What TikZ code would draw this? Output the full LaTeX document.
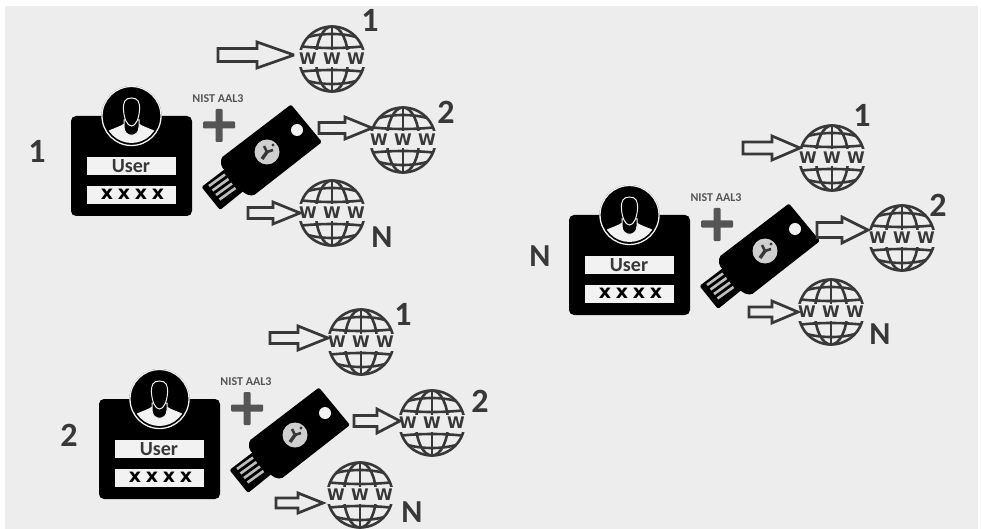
\documentclass[tikz,border=0pt]{standalone}
\usepackage{fontspec}
\setmainfont{Carlito}
\newfontfamily\xfont[LetterSpace=25]{DejaVu Sans}
\newfontfamily\wfont{DejaVu Sans}
\definecolor{bgc}{HTML}{EDEDED}
\definecolor{ink}{HTML}{383838}
\definecolor{plusc}{HTML}{555555}
\definecolor{barc}{HTML}{F2F2F2}
\definecolor{pinc}{HTML}{BDBDBD}
\definecolor{logoc}{HTML}{CFCFCF}
\tikzset{
  blockarrow/.style={draw=ink,line width=2.7,fill=bgc,line join=miter,miter limit=3},
  globeline/.style={draw=ink,line width=2.6},
  wwwtext/.style={inner sep=0,text=ink,font=\fontsize{16}{16}\selectfont\wfont\bfseries},
  numlabel/.style={inner sep=0,text=ink,font=\fontsize{34}{34}\selectfont\bfseries},
  nlabel/.style={inner sep=0,text=ink,font=\fontsize{32}{32}\selectfont\bfseries},
  aaltext/.style={inner sep=0,text=plusc,font=\fontsize{12}{12}\selectfont\bfseries},
  usertext/.style={inner sep=0,text=ink,font=\fontsize{20}{20}\selectfont\bfseries},
  passtext/.style={inner sep=0,text=black,font=\fontsize{19}{19}\selectfont\xfont\bfseries},
}
% prefix, x, y
\newcommand{\webglobe}[3]{%
  \begin{scope}[shift={(#2,#3)}]
    \draw[globeline] (0,0) circle[radius=32.5];
    \draw[globeline] (0,0) ellipse[x radius=16,y radius=32.5];
    \draw[globeline] (0,-32.5) -- (0,32.5);
    \draw[globeline] (-24,-22) .. controls (-10,-26) and (10,-26) .. (24,-22);
    \draw[globeline] (-24,22) .. controls (-10,26) and (10,26) .. (24,22);
    \draw[globeline] (-30,-12.5) .. controls (-10,-10.5) and (10,-10.5) .. (30,-12.5);
    \draw[globeline] (-30,12.5) .. controls (-10,10.5) and (10,10.5) .. (30,12.5);
    \fill[bgc] (-35,-8.5) rectangle (35,8.5);
    \node[wwwtext] (#1w1) at (-24,0) {W};
    \node[wwwtext] (#1w2) at (0,0) {W};
    \node[wwwtext] (#1w3) at (24,0) {W};
  \end{scope}}
% tail, tip, y, headx, shafthalf, headhalf
\newcommand{\webarrow}[6]{%
  \draw[blockarrow] (#1,#3-#5) -- (#4,#3-#5) -- (#4,#3-#6) -- (#2,#3) -- (#4,#3+#6) -- (#4,#3+#5) -- (#1,#3+#5) -- cycle;}
% prefix, dx, dy
\newcommand{\usergroup}[3]{%
  \begin{scope}[shift={(#2,#3)}]
    % card
    \fill[black,rounded corners=5] (71,116) rectangle (192,216);
    \fill[barc] (87,157) rectangle (176,175);
    \fill[barc] (87,186) rectangle (176,204);
    \node[usertext] (#1user) at (131,166.5) {User};
    \node[passtext] (#1pass) at (132.5,194) {xxxx};
    % avatar
    \fill[black] (131.5,116) circle[radius=30];
    \draw[barc,line width=1.3] (131.5,116) circle[radius=29.5];
    \begin{scope}
      \clip (131.5,116) circle[radius=27];
      \fill[barc] (104,133) .. controls (113,128) and (120,127) .. (125,123) -- (138,123)
         .. controls (143,127) and (150,128) .. (159,133) -- (159,150) -- (104,150) -- cycle;
    \end{scope}
    \draw[barc,line width=1,fill=black] (124,120) -- (124,127) .. controls (124,138) and (139,138) .. (139,127) -- (139,120) -- cycle;
    \draw[barc,line width=1,fill=black] (131.5,98) .. controls (125,98) and (123,102) .. (123.5,110)
       .. controls (124,118) and (127,126) .. (131.5,126)
       .. controls (136,126) and (139,118) .. (139.5,110) .. controls (140,102) and (138,98) .. (131.5,98) -- cycle;
    % plus
    \fill[plusc,rounded corners=1] (203,121.5) rectangle (235,128.5);
    \fill[plusc,rounded corners=1] (215.5,109) rectangle (222.5,142);
    \node[aaltext] (#1aal) at (218,99) {NIST AAL3};
    % security key
    \fill[black,rounded corners=2] (291,104.5) -- (322,142) -- (253,196) -- (245,194) -- (221,166) -- (221,158) -- cycle;
    \fill[black,rounded corners=2] (229,166) -- (201.5,187) -- (220,210) -- (246,189) -- cycle;
    \draw[pinc,line width=2.6] (209,186) -- (225,174.5);
    \draw[pinc,line width=2.6] (212.5,190.5) -- (228.5,179);
    \draw[pinc,line width=2.6] (216,195) -- (232,183.5);
    \draw[pinc,line width=2.6] (219.5,199.5) -- (235.5,188);
    \fill[barc] (297,130) circle[radius=6];
    \fill[logoc] (267,152) circle[radius=12.5];
    \draw[ink,line width=3.4] (262,159) -- (267,152);
    \draw[ink,line width=2.6] (267,152) -- (264,146);
    \draw[ink,line width=2.6] (267,152) -- (273,150);
    \fill[ink] (273,145) circle[radius=1.6];
  \end{scope}}
\begin{document}
\begin{tikzpicture}[x=1pt,y=-1pt]
\useasboundingbox (0,0) rectangle (981,529);
\fill[white] (0,0) rectangle (981,529);
\fill[bgc] (5,6) rectangle (978,529);
% group 1
\usergroup{a}{0}{0}
\node[numlabel] (anum) at (37,151) {1};
\webglobe{ag1}{332}{59}
\webglobe{ag2}{403}{140}
\webglobe{ag3}{332}{213}
\webarrow{218}{294}{55}{257}{6.5}{13}
\webarrow{319}{372}{128}{345}{5.5}{11}
\webarrow{248}{300}{213}{273}{5.5}{11}
\node[numlabel] (al1) at (370,20) {1};
\node[numlabel] (al2) at (446,112) {2};
\node[nlabel] (al3) at (382,237) {N};
% group 2
\usergroup{b}{28}{283}
\node[numlabel] (bnum) at (69,435) {2};
\webglobe{bg1}{361}{342}
\webglobe{bg2}{432}{423}
\webglobe{bg3}{360}{495}
\webarrow{270}{328}{338}{298}{5.5}{12}
\webarrow{354}{400}{421}{377}{5.5}{12}
\webarrow{276}{323}{503}{298}{5}{10}
\node[numlabel] (bl1) at (403,314) {1};
\node[numlabel] (bl2) at (480,401) {2};
\node[nlabel] (bl3) at (412,512.5) {N};
% group N
\usergroup{c}{498}{99}
\node[nlabel] (cnum) at (540,256) {N};
\webglobe{cg1}{832}{158}
\webglobe{cg2}{902}{238}
\webglobe{cg3}{831}{312}
\webarrow{743}{800}{148}{772}{6}{12}
\webarrow{817}{868}{230}{842}{7.5}{13}
\webarrow{749}{798}{312}{772}{5}{11}
\node[numlabel] (cl1) at (862,115) {1};
\node[numlabel] (cl2) at (938,205) {2};
\node[nlabel] (cl3) at (880,334) {N};
\end{tikzpicture}
\end{document}
